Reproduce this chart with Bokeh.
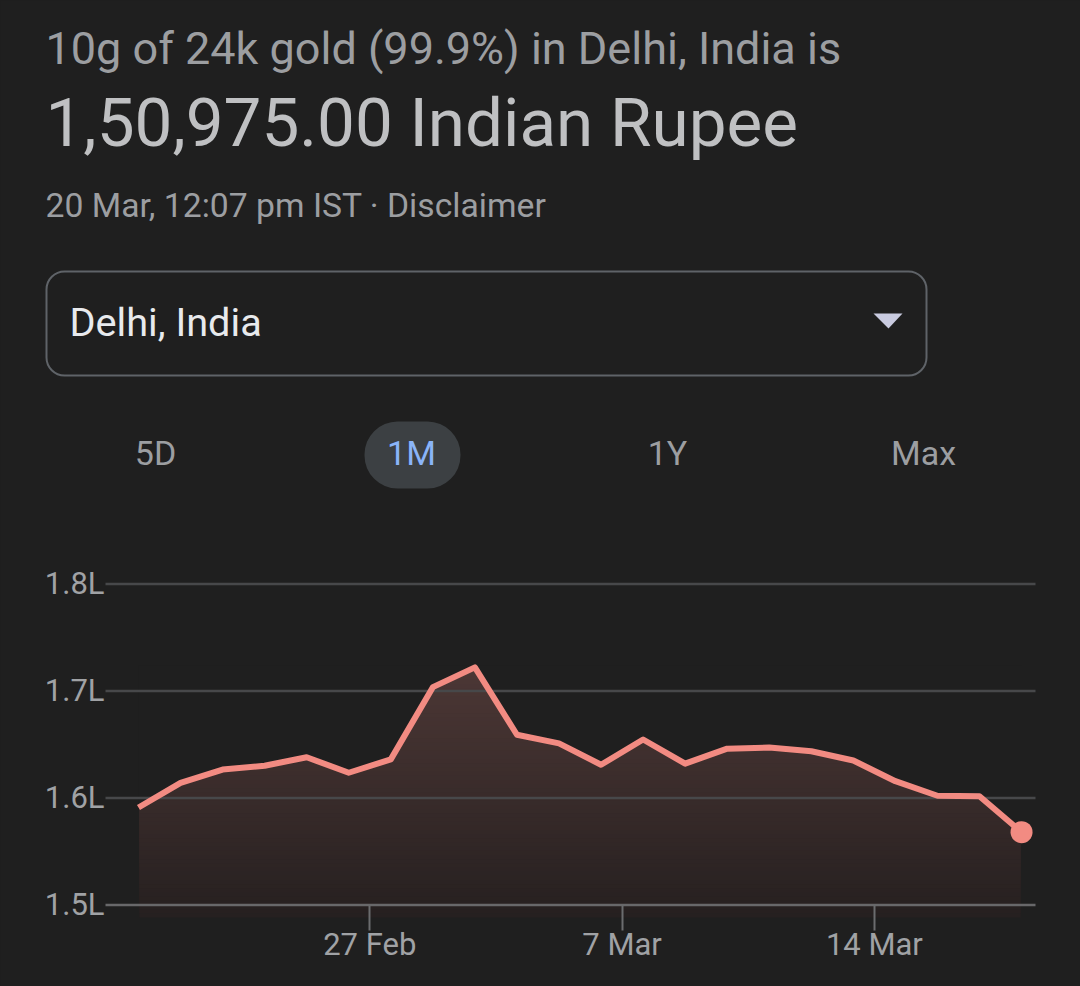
from bokeh.embed import file_html
from bokeh.models import BoxAnnotation, FixedTicker, Label, PolyAnnotation
from bokeh.plotting import figure
from bokeh.resources import INLINE

# trading day index, gold price in lakh rupees
days = list(range(22))
prices = [1.591, 1.614, 1.6265, 1.630, 1.638, 1.6235, 1.636, 1.7035, 1.722, 1.659, 1.651,
          1.631, 1.6546, 1.632, 1.646, 1.647, 1.6436, 1.635, 1.6156, 1.602, 1.6015, 1.568]

y_ticks = [1.5, 1.6, 1.7, 1.8]
y_labels = ["1.5L", "1.6L", "1.7L", "1.8L"]
grid_colors = ["#68686a", "#47484a", "#47484a", "#47484a"]
x_ticks = [5.5, 11.5, 17.5]
x_labels = ["27 Feb", "7 Mar", "14 Mar"]
ranges = ["5D", "1M", "1Y", "Max"]

BG = "#1f1f1f"
FONT = "Roboto"


# the frame fills the page, header and controls are placed through the chart's scale
def dx(px):
    return (px - 138) / 42.05


def dy(py):
    return 1.5 + (904.4 - py) / 1070


p = figure(width=1080, height=986, output_backend="svg", toolbar_location=None,
           x_range=(dx(0), dx(1080)), y_range=(dy(986), dy(0)),
           min_border=0, background_fill_color=BG, border_fill_color=BG, outline_line_color=None)
p.grid.visible = False

# vertical fade: overlapping bands, then the part above the line painted out
n_bands = 60
y_low = dy(917)
y_high = max(prices)
step = (y_high - y_low) / n_bands
bottoms = [y_low + i * step for i in range(n_bands)]
band_colors = []
for i in range(n_bands):
    t = i / (n_bands - 1)
    band_colors.append("#%02x%02x%02x" % (round(38 + 38 * t), round(32 + 23 * t), round(32 + 21 * t)))
p.quad(left=days[0] + 0.02, right=days[-1] - 0.02, bottom=bottoms, top=y_high,
       fill_color=band_colors, line_color=None, level="image")
p.varea(x=days, y1=prices, y2=[y_high + 0.002] * len(days), fill_color=BG, level="image")

p.segment(x0=dx(105), x1=dx(1035), y0=y_ticks, y1=y_ticks, line_color=grid_colors,
          line_width=2.5, level="underlay")

p.line(days, prices, line_color="#f28b82", line_width=6, line_join="round")
p.scatter(days[-1:], prices[-1:], size=22, fill_color="#f28b82", line_color=None)

p.xaxis.fixed_location = y_low
p.xaxis.ticker = FixedTicker(ticks=x_ticks)
p.xaxis.major_label_overrides = dict(zip(x_ticks, x_labels))
p.xaxis.axis_line_color = None
p.xaxis.major_tick_line_color = "#6b6c6e"
p.xaxis.major_tick_line_width = 2
p.xaxis.major_tick_in = 12
p.xaxis.major_tick_out = 13
p.xaxis.minor_tick_line_color = None
p.xaxis.major_label_standoff = -5
p.xaxis.major_label_text_font = FONT
p.xaxis.major_label_text_font_size = "31px"
p.xaxis.major_label_text_color = "#a0a2a5"

p.yaxis.fixed_location = dx(105)
p.yaxis.ticker = FixedTicker(ticks=y_ticks)
p.yaxis.major_label_overrides = dict(zip(y_ticks, y_labels))
p.yaxis.axis_line_color = None
p.yaxis.major_tick_line_color = None
p.yaxis.minor_tick_line_color = None
p.yaxis.major_label_standoff = -5
p.yaxis.major_label_text_font = FONT
p.yaxis.major_label_text_font_size = "31px"
p.yaxis.major_label_text_color = "#a0a2a5"


def text(x, y, s, size, color, align="left"):
    p.add_layout(Label(x=dx(x), y=dy(y), text=s, text_font=FONT, text_font_size=size,
                       text_color=color, text_align=align, text_baseline="alphabetic"))


text(45, 47.6, "10g of 24k gold (99.9%) in Delhi, India is", "45px", "#9c9ea1")
text(45, 122.4, "1,50,975.00 Indian Rupee", "67.4px", "#bfc0c2")
text(45, 204.7, "20 Mar, 12:07 pm IST · Disclaimer", "33.7px", "#9c9ea1")

p.add_layout(BoxAnnotation(left=dx(46), right=dx(926), top=dy(271), bottom=dy(375), border_radius=18,
                           fill_alpha=0, line_color="#5f6368", line_alpha=1, line_width=2))
text(69, 321.5, "Delhi, India", "39.7px", "#e8eaed")
p.add_layout(PolyAnnotation(xs=[dx(873), dx(902), dx(888)], ys=[dy(313), dy(313), dy(328)],
                            fill_color="#c9cbe0", fill_alpha=1, line_color=None))

p.add_layout(BoxAnnotation(left=dx(364), right=dx(460), top=dy(421), bottom=dy(488),
                           border_radius=33, fill_color="#3c4043", fill_alpha=1, line_color=None))
for cx, label in zip([155, 411, 667, 923], ranges):
    text(cx, 452.6, label, "34px", "#8ab4f8" if label == "1M" else "#9c9ea1", align="center")

page = """{% block postamble %}<style>html, body { background: #1f1f1f; margin: 0; }</style>{% endblock %}
"""
open("out.html", "w").write(file_html(p, INLINE, template=page))
